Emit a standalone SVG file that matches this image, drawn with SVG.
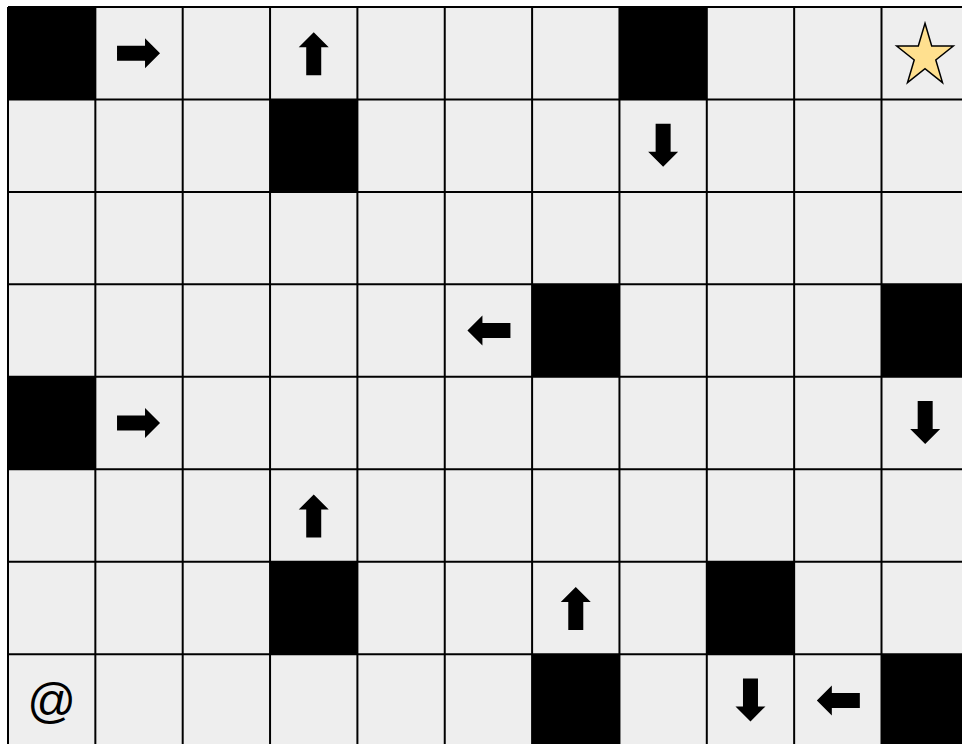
<svg xmlns="http://www.w3.org/2000/svg" xmlns:xlink="http://www.w3.org/1999/xlink" width="962" height="744" viewBox="0 0 962 744">
<style>
.blk{fill:#000000}
.grid line{stroke:#000000;stroke-width:2}
.arr{fill:#000000}
.lbl{font-family:"Liberation Sans",Arial,sans-serif;font-size:48px;fill:#000000;text-anchor:middle}
</style>
<defs>
<path id="arrow" d="M-22,-7.5 H6 V-15 L21,0 L6,15 V7.5 H-22 Z"/>
</defs>
<rect x="0" y="0" width="962" height="744" fill="#ffffff"/>
<rect x="8" y="7" width="961" height="740" fill="#eeeeee"/>
<g id="walls">
<rect class="blk" x="8" y="7" width="87.35" height="92.45"/>
<rect class="blk" x="619.45" y="7" width="87.35" height="92.45"/>
<rect class="blk" x="270.05" y="99.45" width="87.35" height="92.45"/>
<rect class="blk" x="532.1" y="284.35" width="87.35" height="92.45"/>
<rect class="blk" x="881.5" y="284.35" width="87.35" height="92.45"/>
<rect class="blk" x="8" y="376.8" width="87.35" height="92.45"/>
<rect class="blk" x="270.05" y="561.7" width="87.35" height="92.45"/>
<rect class="blk" x="706.8" y="561.7" width="87.35" height="92.45"/>
<rect class="blk" x="532.1" y="654.15" width="87.35" height="92.45"/>
<rect class="blk" x="881.5" y="654.15" width="87.35" height="92.45"/>
</g>
<g class="grid">
<line x1="8" y1="7" x2="8" y2="746"/>
<line x1="95.35" y1="7" x2="95.35" y2="746"/>
<line x1="182.7" y1="7" x2="182.7" y2="746"/>
<line x1="270.05" y1="7" x2="270.05" y2="746"/>
<line x1="357.4" y1="7" x2="357.4" y2="746"/>
<line x1="444.75" y1="7" x2="444.75" y2="746"/>
<line x1="532.1" y1="7" x2="532.1" y2="746"/>
<line x1="619.45" y1="7" x2="619.45" y2="746"/>
<line x1="706.8" y1="7" x2="706.8" y2="746"/>
<line x1="794.15" y1="7" x2="794.15" y2="746"/>
<line x1="881.5" y1="7" x2="881.5" y2="746"/>
<line x1="8" y1="7" x2="969" y2="7"/>
<line x1="8" y1="99.45" x2="969" y2="99.45"/>
<line x1="8" y1="191.9" x2="969" y2="191.9"/>
<line x1="8" y1="284.35" x2="969" y2="284.35"/>
<line x1="8" y1="376.8" x2="969" y2="376.8"/>
<line x1="8" y1="469.25" x2="969" y2="469.25"/>
<line x1="8" y1="561.7" x2="969" y2="561.7"/>
<line x1="8" y1="654.15" x2="969" y2="654.15"/>
</g>
<g id="arrows">
<use class="arr" xlink:href="#arrow" href="#arrow" transform="translate(139.03,53.23)"/>
<use class="arr" xlink:href="#arrow" href="#arrow" transform="translate(313.73,53.23) rotate(-90)"/>
<use class="arr" xlink:href="#arrow" href="#arrow" transform="translate(663.13,145.68) rotate(90)"/>
<use class="arr" xlink:href="#arrow" href="#arrow" transform="translate(488.43,330.58) rotate(180)"/>
<use class="arr" xlink:href="#arrow" href="#arrow" transform="translate(139.03,423.03)"/>
<use class="arr" xlink:href="#arrow" href="#arrow" transform="translate(925.18,423.03) rotate(90)"/>
<use class="arr" xlink:href="#arrow" href="#arrow" transform="translate(313.73,515.48) rotate(-90)"/>
<use class="arr" xlink:href="#arrow" href="#arrow" transform="translate(575.78,607.93) rotate(-90)"/>
<use class="arr" xlink:href="#arrow" href="#arrow" transform="translate(750.48,700.38) rotate(90)"/>
<use class="arr" xlink:href="#arrow" href="#arrow" transform="translate(837.83,700.38) rotate(180)"/>
</g>
<g id="goal">
<polygon points="925,23.3 931.7,46 953.3,46 935.8,60 942.5,82.6 925,68.6 907.5,82.6 914.2,60 896.7,46 918.3,46" fill="#ffe08f" stroke="#000000" stroke-width="1.5" stroke-linejoin="miter"/>
</g>
<g id="start">
<text class="lbl" x="51.7" y="717">@</text>
</g>
</svg>
